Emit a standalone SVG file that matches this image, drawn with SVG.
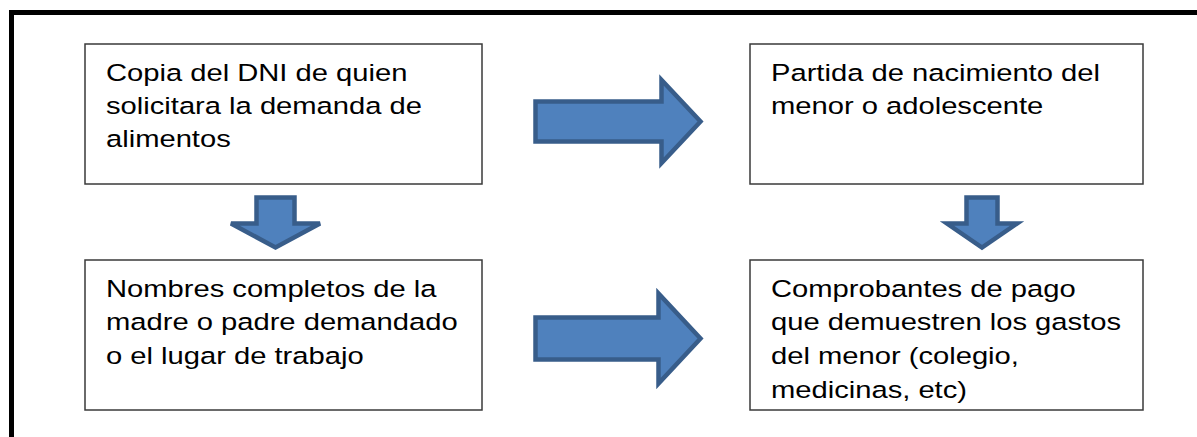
<svg xmlns="http://www.w3.org/2000/svg" width="1197" height="437" viewBox="0 0 1197 437">
<style>
.box{fill:#fff;stroke:#3a3a3a;stroke-width:1.5}
.arr{fill:#4F81BD;stroke:#385D8A;stroke-width:4.5;stroke-linejoin:miter}
.t{font-family:"Liberation Sans",Arial,sans-serif;font-size:24.3px;fill:#000}
</style>
<rect width="1197" height="437" fill="#fff"/>
<path d="M11.5,440 V12.5 H1200" fill="none" stroke="#000" stroke-width="5"/>
<g id="connectors">
<polygon class="arr" points="535.5,101.5 661.5,101.5 661.5,80 700.5,121.5 661.5,163 661.5,141.5 535.5,141.5"/>
<polygon class="arr" points="535.5,317.5 658.5,317.5 658.5,293.5 700.5,338.5 658.5,383.5 658.5,359.5 535.5,359.5"/>
<polygon class="arr" points="256.5,197.5 294.5,197.5 294.5,223.5 320,223.5 275.5,247.5 231,223.5 256.5,223.5"/>
<polygon class="arr" points="966.5,197.5 997.5,197.5 997.5,223.5 1017,223.5 982,247.5 947,223.5 966.5,223.5"/>
</g>
<g id="node1">
<rect class="box" x="85" y="44" width="397" height="140"/>
<text class="t" transform="translate(106 0) scale(1.2 1)"><tspan x="0" y="81.5">Copia del DNI de quien</tspan><tspan x="0" y="114.5">solicitara la demanda de</tspan><tspan x="0" y="147.5">alimentos</tspan></text>
</g>
<g id="node2">
<rect class="box" x="750" y="44" width="393" height="140"/>
<text class="t" transform="translate(771 0) scale(1.2 1)"><tspan x="0" y="81.5">Partida de nacimiento del</tspan><tspan x="0" y="114.5">menor o adolescente</tspan></text>
</g>
<g id="node3">
<rect class="box" x="85" y="260" width="397" height="150"/>
<text class="t" transform="translate(106 0) scale(1.2 1)"><tspan x="0" y="297">Nombres completos de la</tspan><tspan x="0" y="330.5">madre o padre demandado</tspan><tspan x="0" y="364">o el lugar de trabajo</tspan></text>
</g>
<g id="node4">
<rect class="box" x="750" y="260" width="393" height="150"/>
<text class="t" transform="translate(771 0) scale(1.2 1)"><tspan x="0" y="297">Comprobantes de pago</tspan><tspan x="0" y="330.5">que demuestren los gastos</tspan><tspan x="0" y="364">del menor (colegio,</tspan><tspan x="0" y="398">medicinas, etc)</tspan></text>
</g>
</svg>
